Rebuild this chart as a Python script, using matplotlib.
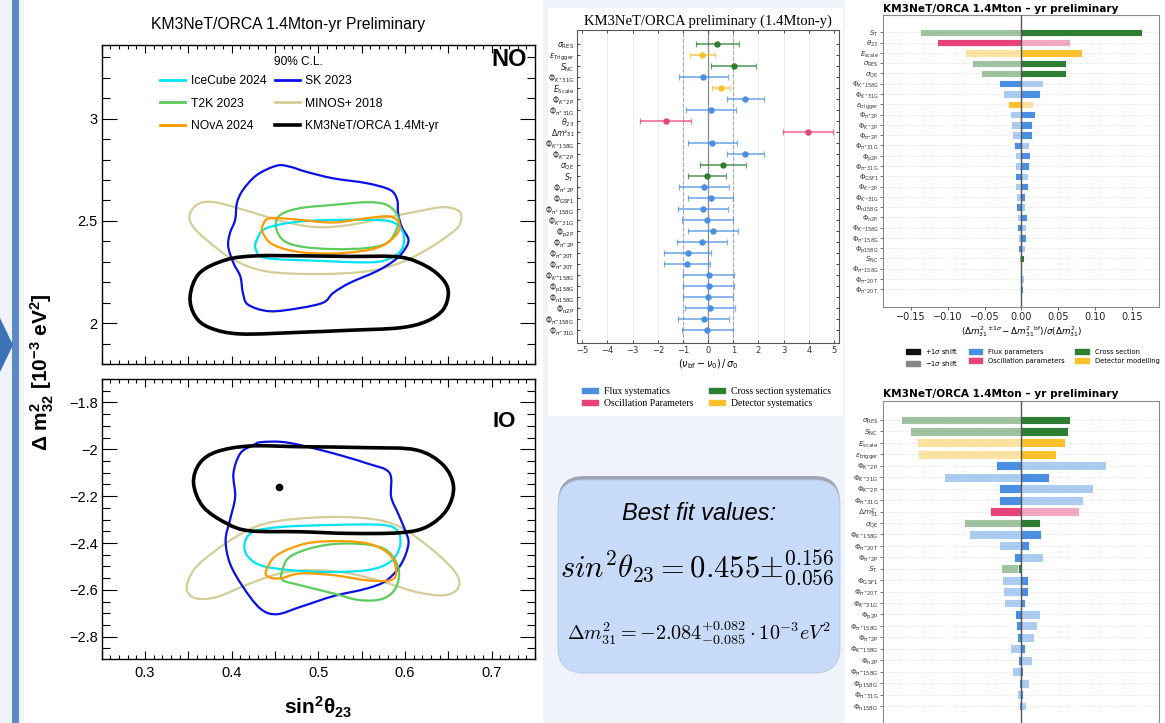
import numpy as np
import matplotlib
matplotlib.use('Agg')
import matplotlib.pyplot as plt
from matplotlib.path import Path
from matplotlib.patches import PathPatch, Rectangle, FancyBboxPatch, Polygon, Patch
from matplotlib.lines import Line2D
from matplotlib.ticker import MultipleLocator, FuncFormatter
from matplotlib.transforms import Affine2D
from matplotlib.colors import to_rgba

# ---------------- DATA ----------------
# Left panel: 90% C.L. contours (sin^2 theta23, dm^2_32 [1e-3 eV^2])
EXPERIMENTS = ['IceCube 2024', 'T2K 2023', 'NOvA 2024', 'SK 2023', 'MINOS+ 2018', 'KM3NeT/ORCA 1.4Mt-yr']

NO_ICECUBE_X = [0.429, 0.440, 0.479, 0.536, 0.583, 0.598, 0.596, 0.579, 0.556, 0.498, 0.440, 0.428]
NO_ICECUBE_Y = [2.407, 2.464, 2.497, 2.505, 2.497, 2.440, 2.359, 2.310, 2.297, 2.305, 2.318, 2.359]
NO_T2K_X = [0.456, 0.479, 0.517, 0.556, 0.579, 0.592, 0.590, 0.579, 0.556, 0.517, 0.479, 0.459, 0.451]
NO_T2K_Y = [2.529, 2.562, 2.578, 2.591, 2.578, 2.521, 2.456, 2.391, 2.367, 2.362, 2.375, 2.407, 2.472]
NO_NOVA_X = [0.436, 0.444, 0.471, 0.517, 0.556, 0.583, 0.594, 0.588, 0.567, 0.525, 0.479, 0.448, 0.436]
NO_NOVA_Y = [2.480, 2.513, 2.508, 2.492, 2.513, 2.521, 2.480, 2.423, 2.367, 2.342, 2.347, 2.383, 2.440]
NO_SK_X = [0.452, 0.429, 0.413, 0.406, 0.404, 0.398, 0.396, 0.402, 0.410, 0.413, 0.419, 0.444, 0.479, 0.506,
           0.517, 0.536, 0.567, 0.586, 0.598, 0.604, 0.596, 0.592, 0.591, 0.583, 0.556, 0.517, 0.486, 0.467]
NO_SK_Y = [2.770, 2.724, 2.651, 2.586, 2.505, 2.440, 2.375, 2.294, 2.228, 2.147, 2.090, 2.058, 2.074, 2.101,
           2.147, 2.196, 2.253, 2.301, 2.350, 2.407, 2.472, 2.538, 2.602, 2.651, 2.684, 2.708, 2.740, 2.765]
NO_MINOS_X = [0.352, 0.363, 0.383, 0.421, 0.459, 0.498, 0.536, 0.575, 0.613, 0.644, 0.663, 0.663, 0.648, 0.625,
              0.594, 0.556, 0.498, 0.440, 0.402, 0.371, 0.354]
NO_MINOS_Y = [2.538, 2.586, 2.589, 2.545, 2.497, 2.469, 2.480, 2.513, 2.545, 2.567, 2.545, 2.480, 2.423, 2.359,
              2.294, 2.253, 2.240, 2.253, 2.310, 2.407, 2.480]
NO_KM3_X = [0.352, 0.363, 0.394, 0.429, 0.479, 0.536, 0.594, 0.625, 0.644, 0.650, 0.644, 0.625, 0.594, 0.536,
            0.479, 0.410, 0.375, 0.358]
NO_KM3_Y = [2.131, 2.245, 2.310, 2.329, 2.329, 2.326, 2.323, 2.277, 2.212, 2.147, 2.066, 2.009, 1.977, 1.965,
            1.955, 1.947, 1.977, 2.033]

IO_ICECUBE_X = [0.415, 0.425, 0.459, 0.517, 0.575, 0.592, 0.594, 0.583, 0.556, 0.498, 0.440, 0.419]
IO_ICECUBE_Y = [-2.402, -2.352, -2.331, -2.323, -2.323, -2.352, -2.416, -2.480, -2.516, -2.523, -2.502, -2.459]
IO_T2K_X = [0.458, 0.467, 0.498, 0.536, 0.575, 0.592, 0.590, 0.575, 0.548, 0.517, 0.479, 0.459]
IO_T2K_Y = [-2.523, -2.459, -2.416, -2.402, -2.423, -2.502, -2.587, -2.637, -2.644, -2.615, -2.580, -2.559]
IO_NOVA_X = [0.440, 0.452, 0.486, 0.525, 0.560, 0.583, 0.590, 0.583, 0.556, 0.517, 0.479, 0.456, 0.442]
IO_NOVA_Y = [-2.516, -2.452, -2.402, -2.392, -2.405, -2.452, -2.523, -2.559, -2.559, -2.537, -2.530, -2.551, -2.544]
IO_SK_X = [0.433, 0.456, 0.479, 0.517, 0.556, 0.582, 0.584, 0.592, 0.600, 0.604, 0.596, 0.579, 0.556, 0.517,
           0.479, 0.452, 0.433, 0.413, 0.398, 0.393, 0.398, 0.404, 0.402, 0.410, 0.425]
IO_SK_Y = [-1.970, -1.968, -1.982, -2.017, -2.060, -2.100, -2.203, -2.274, -2.345, -2.402, -2.487, -2.559, -2.594,
           -2.627, -2.673, -2.704, -2.680, -2.587, -2.487, -2.388, -2.302, -2.203, -2.103, -2.017, -1.982]
IO_MINOS_X = [0.350, 0.363, 0.402, 0.440, 0.498, 0.556, 0.594, 0.632, 0.659, 0.661, 0.644, 0.613, 0.575, 0.536,
              0.498, 0.459, 0.421, 0.383, 0.360, 0.349]
IO_MINOS_Y = [-2.559, -2.487, -2.380, -2.316, -2.291, -2.295, -2.331, -2.430, -2.530, -2.594, -2.623, -2.609,
              -2.566, -2.530, -2.516, -2.527, -2.573, -2.630, -2.637, -2.609]
IO_KM3_X = [0.356, 0.363, 0.383, 0.421, 0.479, 0.556, 0.613, 0.644, 0.656, 0.648, 0.625, 0.594, 0.536, 0.479,
            0.421, 0.394, 0.367]
IO_KM3_Y = [-2.145, -2.060, -2.010, -1.986, -1.989, -1.993, -2.003, -2.067, -2.160, -2.259, -2.331, -2.356,
            -2.359, -2.352, -2.348, -2.316, -2.245]
BEST_FIT_S23 = 0.455
BEST_FIT_DM32 = -2.159

# Middle panel: pulls (nu_bf - nu_0)/sigma_0
PULL_LABELS = [r'$\sigma_{\rm RES}$', r'$\epsilon_{\rm Trigger}$', r'$S_{\rm NC}$', r'$\Phi_{K^{+}\rm 31G}$',
               r'$E_{\rm Scale}$', r'$\Phi_{K^{+}\rm 2P}$', r'$\Phi_{\pi^{+}\rm 31G}$', r'$\theta_{23}$',
               r'$\Delta m$' + '\u00b2\u2083\u2081', r'$\Phi_{K^{+}\rm 158G}$', r'$\Phi_{K^{-}\rm 2P}$',
               r'$\sigma_{\rm QE}$',
               r'$S_{\rm T}$', r'$\Phi_{\pi^{+}\rm 2P}$', r'$\Phi_{\rm GSF1}$', r'$\Phi_{\pi^{+}\rm 158G}$',
               r'$\Phi_{K^{-}\rm 31G}$', r'$\Phi_{\rm p2P}$', r'$\Phi_{\pi^{-}\rm 2P}$', r'$\Phi_{\pi^{-}\rm 20T}$',
               r'$\Phi_{\pi^{+}\rm 20T}$', r'$\Phi_{K^{-}\rm 158G}$', r'$\Phi_{\rm p158G}$', r'$\Phi_{\rm n158G}$',
               r'$\Phi_{\rm n2P}$', r'$\Phi_{\pi^{-}\rm 158G}$', r'$\Phi_{\pi^{-}\rm 31G}$']
PULL_CENTER = [0.36, -0.24, 1.03, -0.19, 0.52, 1.47, 0.11, -1.69, 3.97, 0.17, 1.47, 0.58, -0.05, -0.16,
               0.11, -0.21, -0.04, 0.19, -0.24, -0.81, -0.85, 0.03, 0.03, 0.00, 0.09, -0.17, -0.04]
PULL_LOW = [-0.50, -0.71, 0.13, -1.16, 0.17, 0.74, -0.87, -2.70, 2.96, -0.82, 0.75, -0.33, -0.79, -1.15,
            -0.79, -1.19, -1.03, -0.79, -1.22, -1.75, -1.76, -0.98, -0.98, -1.00, -0.91, -1.18, -1.04]
PULL_HIGH = [1.23, 0.28, 1.92, 0.79, 0.87, 2.20, 1.12, -0.69, 4.97, 1.16, 2.20, 1.51, 0.69, 0.83,
             0.99, 0.79, 0.97, 1.19, 0.75, 0.12, 0.08, 1.03, 1.03, 1.00, 1.08, 0.82, 0.97]
PULL_GROUP = ['xs', 'det', 'xs', 'flux', 'det', 'flux', 'flux', 'osc', 'osc', 'flux', 'flux', 'xs', 'xs', 'flux',
              'flux', 'flux', 'flux', 'flux', 'flux', 'flux', 'flux', 'flux', 'flux', 'flux', 'flux', 'flux', 'flux']

# Right top: impact on dm^2_31
IMP_DM_LABELS = [r'$S_{\rm T}$', r'$\theta_{23}$', r'$E_{\rm scale}$', r'$\sigma_{\rm RES}$', r'$\sigma_{\rm QE}$',
                 r'$\Phi_{K^{+}\rm 158G}$', r'$\Phi_{K^{+}\rm 31G}$', r'$\epsilon_{\rm trigger}$',
                 r'$\Phi_{\pi^{+}\rm 2P}$', r'$\Phi_{K^{+}\rm 2P}$', r'$\Phi_{\pi^{-}\rm 2P}$',
                 r'$\Phi_{\pi^{+}\rm 31G}$', r'$\Phi_{\rm p2P}$', r'$\Phi_{\pi^{-}\rm 31G}$', r'$\Phi_{\rm GSF1}$',
                 r'$\Phi_{K^{-}\rm 2P}$', r'$\Phi_{K^{-}\rm 31G}$', r'$\Phi_{\rm n158G}$', r'$\Phi_{\rm n2P}$',
                 r'$\Phi_{K^{-}\rm 158G}$', r'$\Phi_{\pi^{+}\rm 158G}$', r'$\Phi_{\rm p158G}$', r'$S_{\rm NC}$',
                 r'$\Phi_{\pi^{-}\rm 158G}$', r'$\Phi_{\pi^{-}\rm 20T}$', r'$\Phi_{\pi^{+}\rm 20T}$']
IMP_DM_PLUS = [0.164, -0.115, 0.083, 0.061, 0.061, -0.030, 0.025, -0.018, 0.019, 0.014, 0.015, -0.010, 0.012,
               0.010, -0.008, 0.0095, 0.0055, -0.007, 0.008, -0.0055, 0.006, -0.004, 0.0036, 0.0005, -0.0018, 0.002]
IMP_DM_MINUS = [-0.137, 0.066, -0.076, -0.067, -0.055, 0.030, -0.025, 0.016, -0.016, -0.014, -0.013, 0.010,
                -0.009, -0.009, 0.009, -0.008, -0.007, 0.0055, -0.006, 0.007, -0.004, 0.0045, -0.0025, -0.002,
                0.0036, 0.0008]
IMP_DM_GROUP = ['xs', 'osc', 'det', 'xs', 'xs', 'flux', 'flux', 'det', 'flux', 'flux', 'flux', 'flux', 'flux',
                'flux', 'flux', 'flux', 'flux', 'flux', 'flux', 'flux', 'flux', 'flux', 'xs', 'flux', 'flux', 'flux']

# Right bottom: impact on theta23
IMP_TH_LABELS = [r'$\sigma_{\rm RES}$', r'$S_{\rm NC}$', r'$E_{\rm scale}$', r'$\epsilon_{\rm trigger}$',
                 r'$\Phi_{K^{+}\rm 2P}$', r'$\Phi_{K^{+}\rm 31G}$', r'$\Phi_{K^{-}\rm 2P}$',
                 r'$\Phi_{\pi^{+}\rm 31G}$', r'$\Delta m^2_{31}$', r'$\sigma_{\rm QE}$', r'$\Phi_{K^{+}\rm 158G}$',
                 r'$\Phi_{\pi^{-}\rm 20T}$', r'$\Phi_{\pi^{+}\rm 2P}$', r'$S_{\rm T}$', r'$\Phi_{\rm GSF1}$',
                 r'$\Phi_{\pi^{+}\rm 20T}$', r'$\Phi_{K^{-}\rm 31G}$', r'$\Phi_{\rm p2P}$', r'$\Phi_{\pi^{+}\rm 158G}$',
                 r'$\Phi_{\pi^{-}\rm 2P}$', r'$\Phi_{K^{-}\rm 158G}$', r'$\Phi_{\rm n2P}$', r'$\Phi_{\pi^{-}\rm 158G}$',
                 r'$\Phi_{\rm p158G}$', r'$\Phi_{\pi^{-}\rm 31G}$', r'$\Phi_{\rm n158G}$']
IMP_TH_PLUS = [0.066, 0.063, 0.060, 0.047, -0.035, 0.038, -0.030, -0.030, -0.042, 0.025, 0.027, 0.011, -0.0095,
               -0.005, 0.0095, 0.0095, 0.0055, -0.008, -0.007, -0.006, 0.0055, -0.0045, 0.002, -0.0036, 0.0018,
               -0.0036]
IMP_TH_MINUS = [-0.163, -0.151, -0.142, -0.140, 0.115, -0.105, 0.097, 0.084, 0.078, -0.078, -0.071, -0.030,
                0.029, -0.027, -0.026, -0.025, -0.024, 0.025, 0.021, 0.017, -0.015, 0.0145, -0.012, 0.0105,
                -0.0055, 0.0064]
IMP_TH_GROUP = ['xs', 'xs', 'det', 'det', 'flux', 'flux', 'flux', 'flux', 'osc', 'xs', 'flux', 'flux', 'flux',
                'xs', 'flux', 'flux', 'flux', 'flux', 'flux', 'flux', 'flux', 'flux', 'flux', 'flux', 'flux', 'flux']

# ---------------- STYLE ----------------
W, H = 1165, 723
EXP_COLORS = {'IceCube 2024': '#00e3f0', 'T2K 2023': '#5ccc5c', 'NOvA 2024': '#ff9a00',
              'SK 2023': '#0a10e6', 'MINOS+ 2018': '#d5cd98', 'KM3NeT/ORCA 1.4Mt-yr': '#000000'}
GROUP_COLORS = {'flux': '#4a8fe2', 'osc': '#e8427b', 'xs': '#2e7d32', 'det': '#fbc02d'}
LFONT = 'Liberation Sans'

plt.rcParams['font.family'] = ['DejaVu Sans']
plt.rcParams['mathtext.fontset'] = 'dejavusans'
plt.rcParams['mathtext.rm'] = LFONT
plt.rcParams['mathtext.it'] = LFONT + ':italic'
plt.rcParams['mathtext.bf'] = LFONT + ':bold'
plt.rcParams['mathtext.sf'] = LFONT

fig = plt.figure(figsize=(W / 100, H / 100), dpi=100)
fig.patch.set_facecolor('#f0f4fa')
pxT = Affine2D().scale(1 / W, -1 / H).translate(0, 1) + fig.transFigure


def fbox(x0, y0, x1, y1):
    return [x0 / W, 1 - y1 / H, (x1 - x0) / W, (y1 - y0) / H]


# background panels (behind axes)
for (x0, y0, x1, y1) in [(24, 0, 543, 723), (548, 8, 843, 416), (845, 0, 1165, 723)]:
    fig.patches.append(Rectangle((x0, y1), x1 - x0, y0 - y1, transform=pxT, facecolor='white',
                                 edgecolor='none', zorder=-5))
fig.patches.append(Rectangle((12, 723), 7, -723, transform=pxT, facecolor='#5c8bc6', edgecolor='none', zorder=-4))
fig.patches.append(Polygon([(0, 318), (13, 345), (0, 372)], closed=True, transform=pxT,
                           facecolor='#3d72b6', edgecolor='none', zorder=-4))


def closed_path(xs, ys):
    P = np.column_stack([xs, ys])
    n = len(P)
    verts = [P[0]]
    codes = [Path.MOVETO]
    for i in range(n):
        p0, p1, p2, p3 = P[(i - 1) % n], P[i], P[(i + 1) % n], P[(i + 2) % n]
        verts += [p1 + (p2 - p0) / 6.0, p2 - (p3 - p1) / 6.0, p2]
        codes += [Path.CURVE4] * 3
    return Path(verts, codes)


def style_left(ax, ymaj, ymin):
    ax.set_facecolor('white')
    ax.set_xlim(0.25, 0.75)
    ax.xaxis.set_major_locator(MultipleLocator(0.05))
    ax.xaxis.set_minor_locator(MultipleLocator(0.01))
    ax.yaxis.set_major_locator(MultipleLocator(ymaj))
    ax.yaxis.set_minor_locator(MultipleLocator(ymin))
    ax.xaxis.set_major_formatter(FuncFormatter(
        lambda v, p: (f'{v:.1f}' if abs(v * 10 - round(v * 10)) < 1e-6 else '')))
    ax.yaxis.set_major_formatter(FuncFormatter(lambda v, p: f'{v:g}'.replace('-', '\u2212')))
    ax.tick_params(axis='both', which='both', direction='in', top=True, right=True, width=0.8,
                   labelsize=10.5, colors='black')
    ax.tick_params(axis='y', which='major', length=11, pad=3)
    ax.tick_params(axis='y', which='minor', length=5.5)
    ax.tick_params(axis='x', which='major', length=6, pad=5)
    ax.tick_params(axis='x', which='minor', length=3)
    for lab in ax.get_xticklabels() + ax.get_yticklabels():
        lab.set_fontfamily(LFONT)
    for s in ax.spines.values():
        s.set_linewidth(1.0)


# ---- left top (NO)
axA = fig.add_axes(fbox(101.7, 45, 535, 364))
axA.set_ylim(1.80, 3.36)
style_left(axA, 0.5, 0.1)
axA.tick_params(labelbottom=False)
no_sets = [('MINOS+ 2018', NO_MINOS_X, NO_MINOS_Y), ('SK 2023', NO_SK_X, NO_SK_Y),
           ('T2K 2023', NO_T2K_X, NO_T2K_Y), ('IceCube 2024', NO_ICECUBE_X, NO_ICECUBE_Y),
           ('NOvA 2024', NO_NOVA_X, NO_NOVA_Y), ('KM3NeT/ORCA 1.4Mt-yr', NO_KM3_X, NO_KM3_Y)]
for name, xs, ys in no_sets:
    lw = 2.6 if name.startswith('KM3') else 1.6
    axA.add_patch(PathPatch(closed_path(xs, ys), fill=False, edgecolor=EXP_COLORS[name], lw=lw,
                            joinstyle='round'))
handles = [Line2D([], [], color=EXP_COLORS[n], lw=(2.6 if n.startswith('KM3') else 2.0), label=n)
           for n in EXPERIMENTS]
axA.legend(handles=handles, ncol=2, loc='upper left', bbox_to_anchor=(0.134, 0.905), frameon=False,
           prop={'family': LFONT, 'size': 8.7}, handlelength=2.1, handletextpad=0.45, columnspacing=0.7,
           labelspacing=0.85, borderpad=0, borderaxespad=0)
axA.text(0.454, 0.947, '90% C.L.', transform=axA.transAxes, ha='center', va='center', fontsize=8.6,
         fontfamily=LFONT)
axA.text(0.982, 0.953, 'NO', transform=axA.transAxes, ha='right', va='center', fontsize=17,
         fontweight='bold', fontfamily=LFONT)

# ---- left bottom (IO)
axB = fig.add_axes(fbox(101.7, 379, 535, 659))
axB.set_ylim(-2.895, -1.70)
style_left(axB, 0.2, 0.05)
io_sets = [('MINOS+ 2018', IO_MINOS_X, IO_MINOS_Y), ('SK 2023', IO_SK_X, IO_SK_Y),
           ('IceCube 2024', IO_ICECUBE_X, IO_ICECUBE_Y), ('T2K 2023', IO_T2K_X, IO_T2K_Y),
           ('NOvA 2024', IO_NOVA_X, IO_NOVA_Y), ('KM3NeT/ORCA 1.4Mt-yr', IO_KM3_X, IO_KM3_Y)]
for name, xs, ys in io_sets:
    lw = 2.6 if name.startswith('KM3') else 1.6
    axB.add_patch(PathPatch(closed_path(xs, ys), fill=False, edgecolor=EXP_COLORS[name], lw=lw,
                            joinstyle='round'))
axB.plot([BEST_FIT_S23], [BEST_FIT_DM32], 'o', color='black', ms=4.5)
axB.text(0.956, 0.8475, 'IO', transform=axB.transAxes, ha='right', va='center', fontsize=16,
         fontweight='bold', fontfamily=LFONT)
axB.set_xlabel(r'$\mathbf{sin^2\theta_{23}}$', fontsize=15, labelpad=11, math_fontfamily='custom')

fig.text(288 / W, 1 - 24 / H, 'KM3NeT/ORCA 1.4Mton-yr Preliminary', ha='center', va='center',
         fontsize=11.3, fontfamily=LFONT)
fig.text(42 / W, 1 - 372 / H, r'$\mathbf{\Delta\ m^{2}_{32}\ [10^{-3}\ eV^{2}]}$', rotation=90,
         ha='center', va='center', fontsize=15, math_fontfamily='custom')

# ---- middle: pulls
axC = fig.add_axes(fbox(577.3, 30, 839, 343.3))
n = len(PULL_LABELS)
ypos = np.arange(n)
axC.set_xlim(-5.2, 5.2)
axC.set_ylim(n - 1 + 1.24, -1.27)
for xv in range(-5, 6):
    axC.axvline(xv, color='#e9e9e9', lw=0.6, zorder=0)
axC.axvline(0, color='#8a8a8a', lw=0.9, zorder=1)
axC.axvline(-1, color='#a8a8a8', lw=0.8, ls='--', zorder=1)
axC.axvline(1, color='#a8a8a8', lw=0.8, ls='--', zorder=1)
for i in range(n):
    c = GROUP_COLORS[PULL_GROUP[i]]
    cen = PULL_CENTER[i]
    axC.errorbar([cen], [ypos[i]], xerr=[[cen - PULL_LOW[i]], [PULL_HIGH[i] - cen]], fmt='o', color=c,
                 ecolor=to_rgba(c, 0.7), ms=3.6, elinewidth=1.3, capsize=2.3, capthick=0.9, zorder=3)
axC.set_yticks(ypos)
axC.set_yticklabels(PULL_LABELS, fontsize=5.6)
axC.set_xticks(range(-5, 6))
axC.tick_params(axis='both', which='major', direction='in', top=True, right=True, length=2.5, width=0.6,
                labelsize=6, colors='#333333', pad=2)
axC.tick_params(axis='y', labelsize=5.6, colors='#222222')
for s in axC.spines.values():
    s.set_color('#555555')
    s.set_linewidth(0.8)
axC.set_title('KM3NeT/ORCA preliminary (1.4Mton-y)', fontfamily='Liberation Serif', fontsize=10.5, pad=4)
axC.set_xlabel(r'$(\nu_{\rm bf}-\nu_0)\,/\,\sigma_0$', fontsize=7, labelpad=1.5)

mid_handles = [Patch(color=GROUP_COLORS['flux'], label='Flux systematics'),
               Patch(color=GROUP_COLORS['osc'], label='Oscillation Parameters'),
               Patch(color=GROUP_COLORS['xs'], label='Cross section systematics'),
               Patch(color=GROUP_COLORS['det'], label='Detector systematics')]
fig.legend(handles=mid_handles, ncol=2, loc='upper left', bbox_to_anchor=(582 / W, 1 - 387 / H),
           frameon=False, prop={'family': 'Liberation Serif', 'size': 7}, handlelength=1.65,
           handleheight=0.55, handletextpad=0.6, columnspacing=1.6, labelspacing=0.3, borderpad=0,
           borderaxespad=0)

# best fit box
shadow = FancyBboxPatch((5.58, 0.52), 2.82, 1.95, boxstyle='round,pad=0,rounding_size=0.26',
                        transform=fig.dpi_scale_trans, facecolor='#5a6478', edgecolor='none', alpha=0.55,
                        zorder=2)
fig.patches.append(shadow)
box = FancyBboxPatch((5.58, 0.50), 2.82, 1.93, boxstyle='round,pad=0,rounding_size=0.26',
                     transform=fig.dpi_scale_trans, facecolor='#c7dbf8', edgecolor='#b9cdea', lw=0.8,
                     zorder=3)
fig.patches.append(box)
fig.text(699 / W, 1 - 513 / H, 'Best fit values:', ha='center', va='center', fontsize=17,
         fontfamily=LFONT, style='italic', zorder=4)
fig.text(697 / W, 1 - 568 / H, r'$sin^2\theta_{23} = 0.455{\pm}^{0.156}_{0.056}$', ha='center',
         va='center', fontsize=22, math_fontfamily='cm', zorder=4)
fig.text(699 / W, 1 - 633 / H, r'$\Delta m^2_{31} = -2.084^{+0.082}_{-0.085}\cdot 10^{-3} eV^2$',
         ha='center', va='center', fontsize=14.5, math_fontfamily='cm', zorder=4)


# ---- right panels
def impact(ax, labels, plus, minus, groups, height, lsize):
    m = len(labels)
    yy = np.arange(m)
    ax.set_facecolor('white')
    ax.set_xlim(-0.1875, 0.1875)
    ax.set_ylim(m - 1 + 1.69, -1.69)
    for i in range(m):
        c = GROUP_COLORS[groups[i]]
        ax.barh(yy[i], minus[i], height=height, color=to_rgba(c, 0.45), edgecolor=to_rgba('white', 0.9),
                lw=0.7, zorder=2)
        ax.barh(yy[i], plus[i], height=height, color=c, edgecolor=to_rgba('white', 0.9), lw=0.7, zorder=3)
    ax.axvline(0, color='#555555', lw=1.0, zorder=4)
    ax.set_yticks(yy)
    ax.set_yticklabels(labels, fontsize=lsize)
    ax.grid(axis='y', ls=':', color='#d8d8d8', lw=0.6)
    ax.set_axisbelow(True)
    ax.tick_params(axis='y', length=2, width=0.5, colors='#333333', pad=1.5)
    ax.tick_params(axis='x', length=2.5, width=0.5, labelsize=7, colors='#222222', pad=1.5)
    for s in ax.spines.values():
        s.set_color('#8a8a8a')
        s.set_linewidth(0.8)
    ax.set_title('KM3NeT/ORCA 1.4Mton \u2013 yr preliminary', loc='left', fontweight='bold', fontsize=7.6,
                 pad=2.5)


axD = fig.add_axes(fbox(883.3, 15, 1159.3, 306.7))
impact(axD, IMP_DM_LABELS, IMP_DM_PLUS, IMP_DM_MINUS, IMP_DM_GROUP, 0.72, 5.0)
axD.set_xticks([-0.15, -0.10, -0.05, 0.0, 0.05, 0.10, 0.15])
axD.set_xlabel(r'$(\Delta m^{2}_{31}{}^{\pm1\sigma} - \Delta m^{2}_{31}{}^{\rm bf})/\sigma(\Delta m^{2}_{31})$',
               fontsize=6.3, labelpad=1)

right_handles = [Patch(color='#111111', label=r'$+1\sigma$ shift'),
                 Patch(color='#888888', label=r'$-1\sigma$ shift'),
                 Patch(color=GROUP_COLORS['flux'], label='Flux parameters'),
                 Patch(color=GROUP_COLORS['osc'], label='Oscillation parameters'),
                 Patch(color=GROUP_COLORS['xs'], label='Cross section'),
                 Patch(color=GROUP_COLORS['det'], label='Detector modelling')]
fig.legend(handles=right_handles, ncol=3, loc='upper left', bbox_to_anchor=(906 / W, 1 - 347 / H),
           frameon=False, fontsize=4.9, handlelength=2.0, handleheight=0.7, handletextpad=0.8,
           columnspacing=1.6, labelspacing=0.45, borderpad=0, borderaxespad=0)

axE = fig.add_axes(fbox(883.3, 400.7, 1159.3, 725.3))
impact(axE, IMP_TH_LABELS, IMP_TH_PLUS, IMP_TH_MINUS, IMP_TH_GROUP, 0.78, 5.4)
axE.tick_params(axis='x', labelbottom=False, length=0)

fig.savefig('out.png', dpi=100, facecolor=fig.get_facecolor())
